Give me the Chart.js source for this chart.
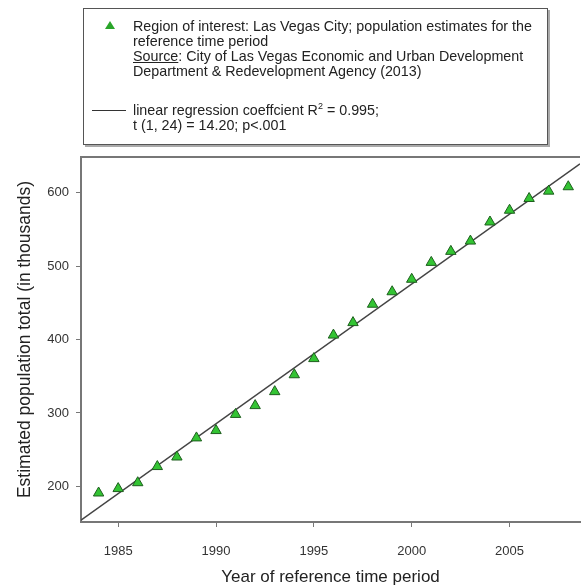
<!DOCTYPE html>
<html>
<head>
<meta charset="utf-8">
<script src="https://cdn.jsdelivr.net/npm/chart.js@4/dist/chart.umd.min.js"></script>
<style>
  html, body { margin: 0; padding: 0; background: #fff; }
  #wrap { position: relative; width: 581px; height: 587px; overflow: hidden; }
  #c { position: absolute; left: 0; top: 0; }
  .legend {
    position: absolute; left: 83px; top: 8px; width: 463px; height: 135px;
    border: 1px solid #555; box-shadow: 2px 2px 0 #aaa; background: #fff;
    font-family: "Liberation Sans", Arial, sans-serif; font-size: 14.3px; color: #222;
    line-height: 15px;
  }
  .legend .txt { position: absolute; left: 49px; white-space: nowrap; }
  .legend .t1 { top: 10px; }
  .legend .t2 { top: 94px; }
  .tri {
    position: absolute; left: 21px; top: 12px; width: 0; height: 0;
    border-left: 5px solid transparent; border-right: 5px solid transparent;
    border-bottom: 8px solid #2aa52a;
  }
  .ln { position: absolute; left: 8px; top: 101px; width: 34px; height: 0; border-top: 1px solid #333; }
  sup { font-size: 9px; line-height: 0; vertical-align: 6px; }
</style>
</head>
<body>
<div id="wrap">
  <!-- canvas is a little wider than the page: the plot runs off the right edge as in the source figure -->
  <canvas id="c" width="587" height="587"></canvas>
  <div class="legend">
    <div class="tri"></div>
    <div class="txt t1">Region of interest: Las Vegas City; population estimates for the<br>reference time period<br><u>Source</u>: City of Las Vegas Economic and Urban Development<br>Department &amp; Redevelopment Agency (2013)</div>
    <div class="ln"></div>
    <div class="txt t2">linear regression coeffcient R<sup>2</sup> = 0.995;<br>t (1, 24) = 14.20; p&lt;.001</div>
  </div>
</div>
<script>
const years = [1984, 1985, 1986, 1987, 1988, 1989, 1990, 1991, 1992, 1993, 1994, 1995, 1996,
               1997, 1998, 1999, 2000, 2001, 2002, 2003, 2004, 2005, 2006, 2007, 2008];
const population = [191, 197, 205, 227, 240, 266, 276, 298, 310, 329, 352, 374, 406,
                    423, 448, 465, 482, 505, 520, 534, 560, 576, 592, 602, 608];
const xTicks = [1985, 1990, 1995, 2000, 2005];
const yTicks = [200, 300, 400, 500, 600];
const xRange = [1983.1, 2008.6];
const yRange = [151.5, 648.5];

// least squares fit of the points, drawn across the whole x range
const n = years.length;
const mx = years.reduce((a, b) => a + b, 0) / n;
const my = population.reduce((a, b) => a + b, 0) / n;
let sxy = 0, sxx = 0;
for (let i = 0; i < n; i++) {
  sxy += (years[i] - mx) * (population[i] - my);
  sxx += (years[i] - mx) * (years[i] - mx);
}
const slope = sxy / sxx;
const fit = xRange.map(x => ({x: x, y: my + slope * (x - mx)}));

const font = {family: '"Liberation Sans", Arial, sans-serif', size: 13};
const axisColor = '#777';

const framePlugin = {
  id: 'frame',
  afterDraw(chart) {
    const {ctx, chartArea} = chart;
    ctx.save();
    ctx.strokeStyle = axisColor;
    ctx.lineWidth = 2;
    ctx.beginPath();
    ctx.moveTo(chartArea.left - 1, chartArea.top);
    ctx.lineTo(chartArea.right, chartArea.top);
    ctx.stroke();
    ctx.restore();
  }
};

new Chart(document.getElementById('c').getContext('2d'), {
  type: 'scatter',
  data: {
    datasets: [{
      label: 'Region of interest',
      data: years.map((y, i) => ({x: y, y: population[i]})),
      pointStyle: 'triangle',
      pointRadius: 6,
      backgroundColor: '#33c433',
      borderColor: '#1e5e1e',
      borderWidth: 1,
      order: 0
    }, {
      type: 'line',
      label: 'linear regression',
      data: fit,
      borderColor: '#444',
      borderWidth: 1.5,
      pointRadius: 0,
      order: 1
    }]
  },
  options: {
    responsive: false,
    animation: false,
    devicePixelRatio: 1,
    layout: {padding: {top: 157, right: 0, left: 0, bottom: 0}},
    plugins: {legend: {display: false}, tooltip: {enabled: false}},
    scales: {
      x: {
        type: 'linear',
        min: xRange[0],
        max: xRange[1],
        afterBuildTicks: s => { s.ticks = xTicks.map(v => ({value: v})); },
        afterFit: s => { s.height = 65; },
        grid: {drawOnChartArea: false, tickLength: 5, color: axisColor},
        border: {color: axisColor, width: 2},
        ticks: {font: font, color: '#333', padding: 17, maxRotation: 0, callback: v => String(v)},
        title: {display: true, text: 'Year of reference time period', color: '#222',
                font: {family: font.family, size: 17}, padding: {top: 0, bottom: -1}}
      },
      y: {
        min: yRange[0],
        max: yRange[1],
        afterBuildTicks: s => { s.ticks = yTicks.map(v => ({value: v})); },
        afterFit: s => { s.width = 81; },
        grid: {drawOnChartArea: false, tickLength: 5, color: axisColor},
        border: {color: axisColor, width: 2},
        ticks: {font: font, color: '#333', padding: 7, callback: v => String(v)},
        title: {display: true, text: 'Estimated population total (in thousands)', color: '#222',
                font: {family: font.family, size: 17.5}, padding: {top: 14.5, bottom: 0}}
      }
    }
  },
  plugins: [framePlugin]
});
</script>
</body>
</html>
